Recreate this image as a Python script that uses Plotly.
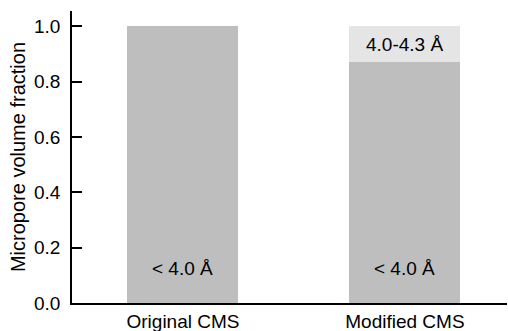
import plotly.graph_objects as go

categories = ["Original CMS", "Modified CMS"]
small_pores = [1.0, 0.87]          # < 4.0 Å fraction
large_pores = [0.0, 0.13]          # 4.0-4.3 Å fraction
small_label = "< 4.0 Å"
large_label = "4.0-4.3 Å"
y_ticks = [0.0, 0.2, 0.4, 0.6, 0.8, 1.0]

FONT = "Liberation Sans, Arial, sans-serif"

fig = go.Figure()
fig.add_trace(go.Bar(x=categories, y=small_pores, width=0.5,
                     marker=dict(color="#bebebe", line=dict(width=0)),
                     showlegend=False, hoverinfo="skip"))
fig.add_trace(go.Bar(x=categories, y=large_pores, width=0.5,
                     marker=dict(color="#e5e5e5", line=dict(width=0)),
                     showlegend=False, hoverinfo="skip"))

annotations = []
for c in categories:
    annotations.append(dict(x=c, y=0.125, xref="x", yref="y", text=small_label,
                            showarrow=False, font=dict(size=19, color="black", family=FONT)))
annotations.append(dict(x=categories[1], y=small_pores[1] + large_pores[1] / 2,
                        xref="x", yref="y", text=large_label, showarrow=False,
                        font=dict(size=19, color="black", family=FONT)))

fig.update_layout(
    width=508, height=331,
    margin=dict(l=72, r=1, t=11, b=28, pad=0),
    barmode="stack",
    plot_bgcolor="white", paper_bgcolor="white",
    font=dict(family=FONT, size=19, color="black"),
    annotations=annotations,
    xaxis=dict(range=[-0.5, 1.46], showline=True, linecolor="black", linewidth=1.5,
               ticks="", showgrid=False, zeroline=False, ticklabelstandoff=0,
               automargin=False),
    yaxis=dict(range=[0, 1.055], tickvals=y_ticks, tickformat=".1f",
               showline=True, linecolor="black", linewidth=1.5,
               ticks="inside", ticklen=10, tickwidth=1.5, tickcolor="black",
               showgrid=False, zeroline=False, ticklabelstandoff=6,
               automargin=False,
               title=dict(text="Micropore volume fraction", standoff=3,
                          font=dict(size=20))),
)

fig.write_html("out.html", config={"displayModeBar": False},
               post_script="document.body.style.margin='0';")
